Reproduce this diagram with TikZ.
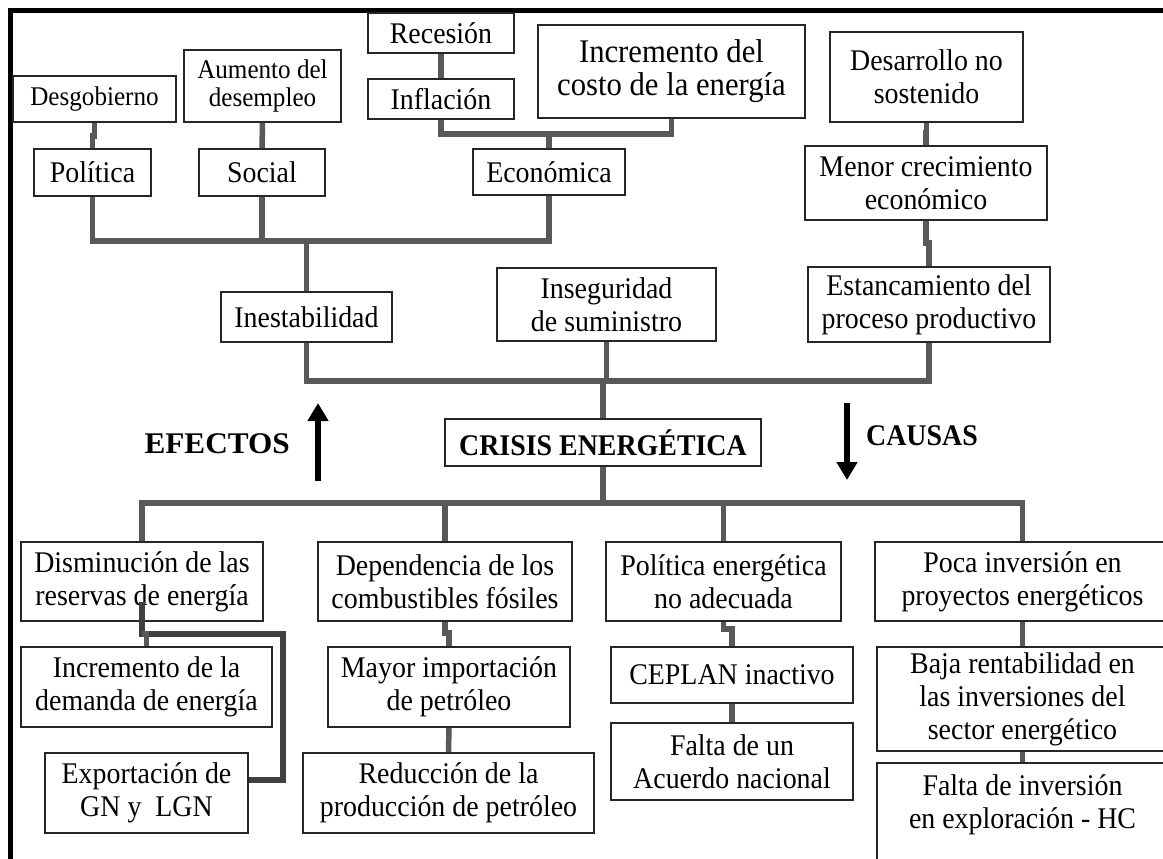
\documentclass[tikz,border=0pt]{standalone}
\usepackage{fontspec}
\usepackage{graphicx}
\setmainfont{Liberation Serif}[FakeStretch=0.93]
\usetikzlibrary{arrows.meta}
\newcommand{\fs}{\fontsize{30}{33}\selectfont}
\newcommand{\fss}{\fontsize{27}{28}\selectfont}
\newcommand{\fsl}{\fontsize{33}{33}\selectfont}
\begin{document}
\begin{tikzpicture}[x=1pt,y=-1pt,
  box/.style={draw=black!85, line width=1.6pt, fill=white, align=center, inner sep=0pt, font=\fs},
  sz/.style 2 args={minimum width=#1pt, minimum height=#2pt},
  conn/.style={draw=black!65, line width=5.5pt, line join=miter},
  bigarrow/.style={draw=black, line width=6.5pt, -{Triangle[width=20pt,length=18pt]}},
  lbl/.style={font=\fs\bfseries, inner sep=0pt}]
\useasboundingbox (0,0) rectangle (1163,859);
\clip (0,0) rectangle (1163,859);
\fill[white] (0,0) rectangle (1163,859);

% frame
\draw[line width=4.5pt, black] (10.5,859) -- (10.5,10.5) -- (1163,10.5);

% bus levels
\coordinate (busE) at (0,134);
\coordinate (busT) at (0,241);
\coordinate (busM) at (0,381);
\coordinate (busB) at (0,503);

% ---- top (effects) ----
\node[box, sz={163}{46}, font=\fss] (desg) at (94.5,99) {Desgobierno};
\node[box, sz={157}{72}, font=\fss] (aum) at (262.5,86) {Aumento del\\desempleo};
\node[box, sz={117}{47}] (pol) at (92.5,172.5) {Política};
\node[box, sz={126}{47}] (soc) at (262,172.5) {Social};
\node[box, sz={146}{40}] (rec) at (441,33) {Recesión};
\node[box, sz={146}{40}] (infl) at (441,99) {Inflación};
\node[box, sz={267}{93}, font=\fsl] (inc) at (671.5,71.5) {Incremento del\\costo de la energía};
\node[box, sz={152}{46}] (eco) at (549,172) {Económica};
\node[box, sz={193}{90}] (des) at (926.5,77) {Desarrollo no\\sostenido};
\node[box, sz={242}{74}] (men) at (926,183) {Menor crecimiento\\económico};
\node[box, sz={171}{50}] (ines) at (306.5,317) {Inestabilidad};
\node[box, sz={219}{73}] (inseg) at (606.5,304.5) {Inseguridad\\de suministro};
\node[box, sz={242}{75}] (estan) at (929,304.5) {Estancamiento del\\proceso productivo};
\node[box, sz={316}{47}, font=\fs\bfseries] (crisis) at (603,442.5) {CRISIS ENERGÉTICA};

% ---- bottom (causes) ----
\node[box, sz={242}{79}] (dism) at (142,581.5) {Disminución de las\\reservas de energía};
\node[box, sz={254}{79}] (dep) at (445,581.5) {Dependencia de los\\combustibles fósiles};
\node[box, sz={235}{79}] (pen) at (723.5,581.5) {Política energética\\no adecuada};
\node[box, sz={295}{79}] (poca) at (1022.5,581.5) {Poca inversión en\\proyectos energéticos};
\node[box, sz={251}{80}] (incd) at (146.5,687) {Incremento de la\\demanda de energía};
\node[box, sz={242}{80}] (may) at (449,687) {Mayor importación\\de petróleo};
\node[box, sz={242}{56}] (cep) at (732,675) {CEPLAN inactivo};
\node[box, sz={291}{104}] (baja) at (1022.5,699) {Baja rentabilidad en\\las inversiones del\\sector energético};
\node[box, sz={203}{80}] (exp) at (146.5,793) {Exportación de\\GN y~ LGN};
\node[box, sz={291}{80}] (red) at (448.5,793) {Reducción de la\\producción de petróleo};
\node[box, sz={242}{77}] (fac) at (732,761.5) {Falta de un\\Acuerdo nacional};
\node[box, sz={291}{117}] (fin) at (1022.5,821.5) {Falta de inversión\\en exploración - HC\\[6pt]\mbox{}};

% ---- connectors: top ----
\draw[conn] (desg.south) -- ++(0,13) -| (pol.north);
\draw[conn] (aum.south) -- (soc.north);
\draw[conn] (rec.south) -- (infl.north);
\draw[conn] (infl.south) |- (inc.south |- busE) -- (inc.south);
\draw[conn] (eco.north) -- (eco.north |- busE);
\draw[conn] (pol.south) |- (eco.south |- busT) -- (eco.south);
\draw[conn] (soc.south) -- (soc.south |- busT);
\draw[conn] (ines.north |- busT) -- (ines.north);
\draw[conn] (des.south) -- ++(0,10) -| (men.north);
\draw[conn] (men.south) -- ++(0,22) -| (estan.north);
\draw[conn] (ines.south) |- (estan.south |- busM) -- (estan.south);
\draw[conn] (inseg.south) -- (inseg.south |- busM);
\draw[conn] (crisis.north) -- (crisis.north |- busM);

% ---- connectors: bottom ----
\draw[conn] (dism.north) |- (poca.north |- busB) -- (poca.north);
\draw[conn] (crisis.south) -- (crisis.south |- busB);
\draw[conn] (dep.north) -- (dep.north |- busB);
\draw[conn] (pen.north) -- (pen.north |- busB);
\draw[conn] (dep.south) -- ++(0,11) -| (may.north);
\draw[conn] (may.south) -- (red.north);
\draw[conn] (pen.south) -- ++(0,7) -| (cep.north);
\draw[conn] (cep.south) -- (fac.north);
\draw[conn] (poca.south) -- (baja.north);
\draw[conn] (baja.south) -- (fin.north);
\coordinate (dmA) at (142,602);
\coordinate (dmB) at (142,634);
\coordinate (dmC) at (283,634);
\draw[conn, draw=black!75] (dmA) -- (dmB) -- (dmC) |- ([yshift=13pt]exp.east);
\draw[conn] (dmB) -| (incd.north);

% ---- side arrows and labels ----
\coordinate (efA) at (318,481);
\coordinate (efB) at (318,403);
\draw[bigarrow] (efA) -- (efB);
\coordinate (caA) at (847,403);
\coordinate (caB) at (847,480);
\draw[bigarrow] (caA) -- (caB);
\node[lbl, anchor=base east] (efectos) at (290,453) {\scalebox{1.12}[1]{EFECTOS}};
\node[lbl, anchor=base west] (causas) at (866,445) {CAUSAS};
\end{tikzpicture}
\end{document}
